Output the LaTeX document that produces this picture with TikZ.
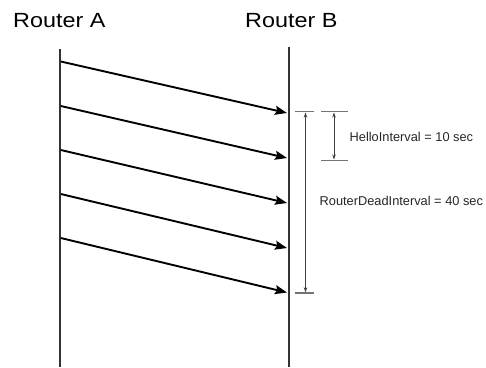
\documentclass[tikz,border=0pt]{standalone}
\usepackage{fontspec}
\setmainfont{Liberation Sans}
\usetikzlibrary{arrows.meta}
\begin{document}
\begin{tikzpicture}[x=1pt,y=-1pt,
  routerlabel/.style={anchor=base west,inner sep=0pt,font=\fontsize{20.5}{24}\selectfont},
  timeline/.style={line width=2.2pt,color=black!80},
  hello/.style={line width=1.9pt,black,-{Stealth[length=12pt,width=9pt,inset=2pt]}},
  tick/.style={line width=1.8pt,color=black!55},
  span/.style={line width=0.9pt,color=black!75,{Stealth[length=5pt,width=3.5pt]}-{Stealth[length=5pt,width=3.5pt]}},
  spanlabel/.style={anchor=base west,inner sep=0pt,font=\fontsize{12.8}{15}\selectfont,text=black!85}]
\useasboundingbox (0,0) rectangle (486,367);

% router names
\node[routerlabel] (ra) at (13,27.3) {\scalebox{1.14}[1]{Router A}};
\node[routerlabel] (rb) at (245,27.3) {\scalebox{1.14}[1]{Router B}};

% time lines of the two routers
\coordinate (atop) at (59.7,49);
\coordinate (abot) at (59.7,367);
\coordinate (btop) at (289,47);
\coordinate (bbot) at (289,367);
\draw[timeline] (atop) -- (abot);
\draw[timeline] (btop) -- (bbot);

% hello packets
\foreach \i/\ys/\ye in {1/61.5/113, 2/106/158, 3/150/203, 4/194/248, 5/238/292.5}{
  \coordinate (s\i) at (60.8,\ys);
  \coordinate (e\i) at (287,\ye);
  \draw[hello] (s\i) -- (e\i);
}

% interval markers
\coordinate (dl) at (295,111.5);
\coordinate (dr) at (314,111.5);
\coordinate (dbl) at (295,293.3);
\coordinate (dbr) at (314,293.3);
\coordinate (hl) at (321,111.5);
\coordinate (hr) at (348,111.5);
\coordinate (hbl) at (321,160.5);
\coordinate (hbr) at (348,160.5);
\draw[tick] (dl) -- (dr);
\draw[tick] (dbl) -- (dbr);
\draw[tick] (hl) -- (hr);
\draw[tick] (hbl) -- (hbr);

\coordinate (dtop) at (305.5,112.5);
\coordinate (dbot) at (305.5,292.3);
\coordinate (htop) at (334,112.5);
\coordinate (hbot) at (334,159.5);
\draw[span] (dtop) -- (dbot);
\draw[span] (htop) -- (hbot);

\node[spanlabel] (hellotext) at (349.5,141.7) {HelloInterval = 10 sec};
\node[spanlabel] (deadtext) at (319.5,205.6) {RouterDeadInterval = 40 sec};
\end{tikzpicture}
\end{document}
